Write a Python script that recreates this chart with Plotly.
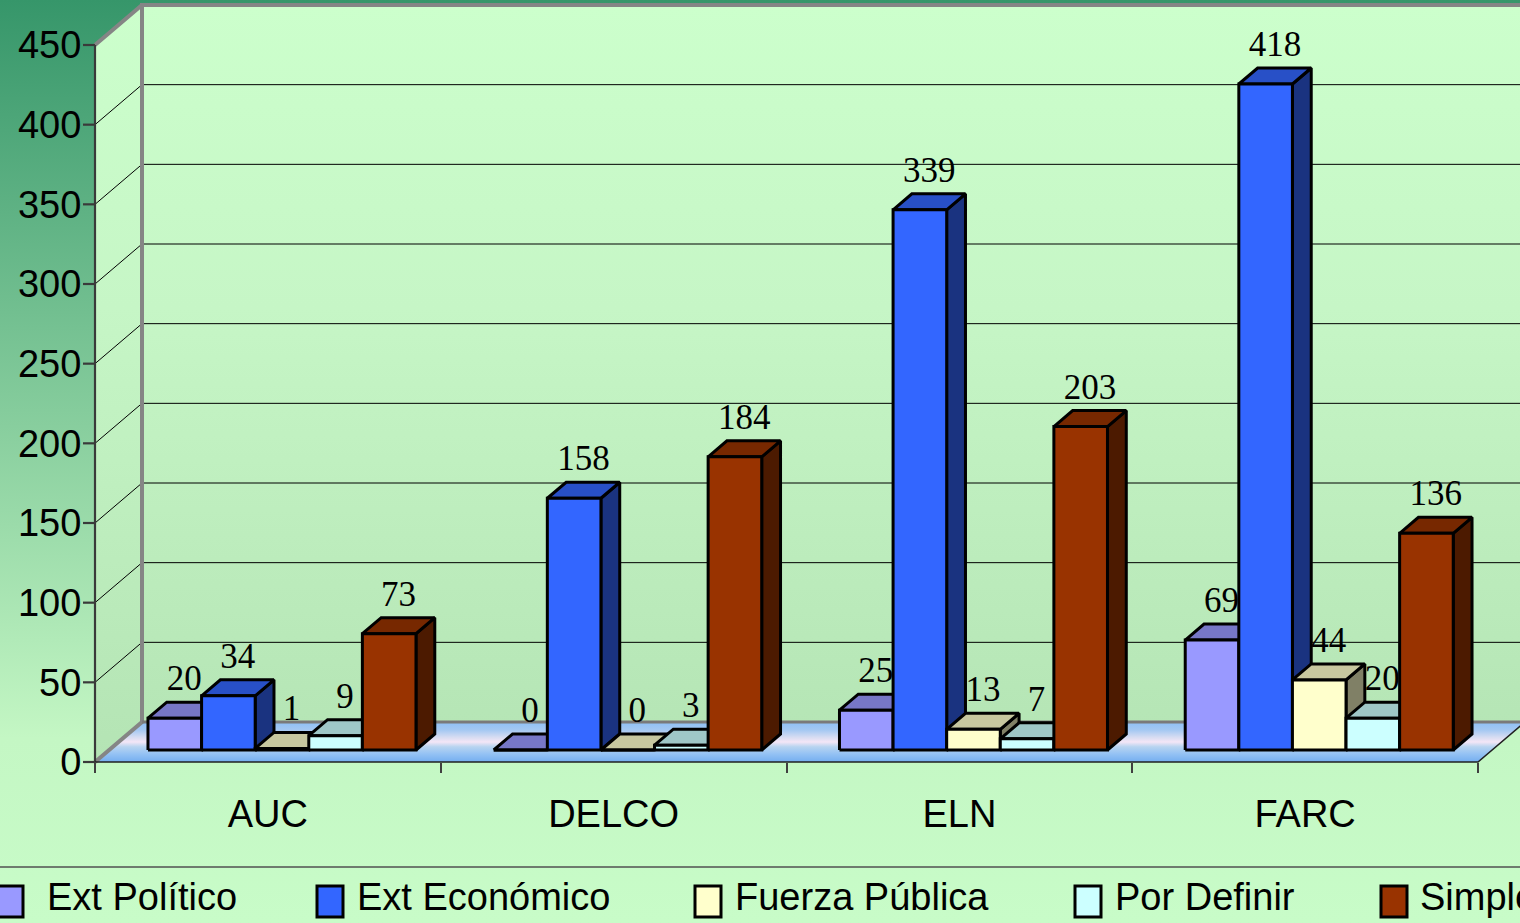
import plotly.graph_objects as go

# datos
categorias = ["AUC", "DELCO", "ELN", "FARC"]
series = ["Ext Político", "Ext Económico", "Fuerza Pública", "Por Definir", "Simple"]
ext_politico = [20, 0, 25, 69]
ext_economico = [34, 158, 339, 418]
fuerza_publica = [1, 0, 13, 44]
por_definir = [9, 3, 7, 20]
simple = [73, 184, 203, 136]
y_ticks = [0, 50, 100, 150, 200, 250, 300, 350, 400, 450]

valores = [ext_politico, ext_economico, fuerza_publica, por_definir, simple]
colores = ["#9999FF", "#3366FF", "#FFFFCC", "#CCFFFF", "#993300"]

# geometria de la vista 3D (pixeles -> unidades de datos)
W, H = 1520, 923
X_UNIT = 345.75
Y_UNIT = 717 / 450
X_MIN = -0.5 - 95 / X_UNIT
X_MAX = -0.5 + (W - 95) / X_UNIT
Y_MIN = -(H - 762) / Y_UNIT
Y_MAX = 762 / Y_UNIT
DX = 47 / X_UNIT
DY = 40 / Y_UNIT
D0, D1 = 0.3, 0.7
BW = 53.6 / X_UNIT
TOPE = y_ticks[-1]
TICK = 12 / X_UNIT

SANS = "Liberation Sans, Arial, sans-serif"
SERIF = "Liberation Serif, Times New Roman, serif"


def shade(c, f):
    r, g, b = int(c[1:3], 16), int(c[3:5], 16), int(c[5:7], 16)
    return "rgb(%d,%d,%d)" % (round(r * f), round(g * f), round(b * f))


def poly(xs, ys, **kw):
    return go.Scatter(x=xs, y=ys, mode="lines", fill="toself", hoverinfo="skip",
                      showlegend=False, **kw)


def lineas(xs, ys, color, width):
    return go.Scatter(x=xs, y=ys, mode="lines", hoverinfo="skip", showlegend=False,
                      line=dict(color=color, width=width))


fig = go.Figure()

# fondo con degradado
fig.add_trace(poly([X_MIN, X_MAX, X_MAX, X_MIN, X_MIN], [Y_MIN, Y_MIN, Y_MAX, Y_MAX, Y_MIN],
                   line=dict(width=0),
                   fillgradient=dict(type="vertical", start=Y_MIN, stop=Y_MAX,
                                     colorscale=[[0, "#C8FCC8"], [0.2, "#C4F7C4"], [1, "#36966A"]])))

pared = dict(type="vertical", start=0, stop=TOPE + DY,
             colorscale=[[0, "#B4E4B4"], [0.6, "#C6F6C6"], [1, "#CCFFCC"]])
# pared izquierda
fig.add_trace(poly([-0.5, -0.5 + DX, -0.5 + DX, -0.5, -0.5], [0, DY, TOPE + DY, TOPE, 0],
                   line=dict(width=0), fillgradient=pared))
# pared del fondo
fig.add_trace(poly([-0.5 + DX, X_MAX + 0.2, X_MAX + 0.2, -0.5 + DX, -0.5 + DX],
                   [DY, DY, TOPE + DY, TOPE + DY, DY],
                   line=dict(width=0), fillgradient=pared))
# piso
fig.add_trace(poly([-0.5, 3.5, 3.5 + DX, -0.5 + DX, -0.5], [0, 0, DY, DY, 0],
                   line=dict(width=0),
                   fillgradient=dict(type="vertical", start=0, stop=DY,
                                     colorscale=[[0, "#74AEF0"], [0.2, "#94C2F4"], [0.38, "#B8D4F0"],
                                                 [0.5, "#F4E6F6"], [0.62, "#D6DCF2"], [0.8, "#A4C8F2"],
                                                 [1, "#8EC0F6"]])))

# lineas de division
gx, gy = [], []
for t in y_ticks[1:-1]:
    gx += [-0.5, -0.5 + DX, X_MAX + 0.2, None]
    gy += [t, t + DY, t + DY, None]
fig.add_trace(lineas(gx, gy, "#000000", 1))

# bordes de las paredes
fig.add_trace(lineas([-0.5, -0.5 + DX, X_MAX + 0.2, None, -0.5, -0.5 + DX, -0.5 + DX, X_MAX + 0.2],
                     [TOPE, TOPE + DY, TOPE + DY, None, 0, DY, TOPE + DY, TOPE + DY], "#858585", 4))
fig.add_trace(lineas([-0.5 + DX, X_MAX + 0.2], [DY, DY], "#7A7A7A", 3))

# ejes frontales y marcas del eje y
tx, ty = [-0.5, -0.5, None], [0, TOPE, None]
for t in y_ticks:
    tx += [-0.5 - TICK, -0.5, None]
    ty += [t, t, None]
fig.add_trace(lineas(tx, ty, "#3A3A3A", 2.2))
fig.add_trace(lineas([-0.5, 3.5, 3.5 + DX], [0, 0, DY], "#202020", 1.5))

# barras 3D
ddx = (D1 - D0) * DX
ddy = (D1 - D0) * DY
lx, ly, lt = [], [], []
for i in range(len(categorias)):
    for j in range(len(series)):
        v = valores[j][i]
        xl = i - 2.5 * BW + j * BW + D0 * DX
        xr = xl + BW
        yb = D0 * DY
        yt = v + D0 * DY
        borde = dict(color="#000000", width=3)
        fig.add_trace(poly([xr, xr + ddx, xr + ddx, xr, xr], [yb, yb + ddy, yt + ddy, yt, yb],
                           line=borde, fillcolor=shade(colores[j], 0.5)))
        fig.add_trace(poly([xl, xr, xr + ddx, xl + ddx, xl], [yt, yt, yt + ddy, yt + ddy, yt],
                           line=borde, fillcolor=shade(colores[j], 0.78)))
        fig.add_trace(poly([xl, xr, xr, xl, xl], [yb, yb, yt, yt, yb],
                           line=borde, fillcolor=colores[j]))
        lx.append((xl + xr) / 2 + ddx / 2)
        ly.append(yt + ddy + 2)
        lt.append(str(v))

fig.add_trace(go.Scatter(x=lx, y=ly, text=lt, mode="text", textposition="top center",
                         textfont=dict(family=SERIF, size=35, color="#000000"),
                         hoverinfo="skip", showlegend=False))

# leyenda manual
fig.add_shape(type="line", xref="paper", yref="paper", x0=0, x1=1,
              y0=1 - 867 / H, y1=1 - 867 / H, line=dict(color="#505050", width=1.5))
cuadros = [-3, 317, 695, 1075, 1381]
textos = [45, 355, 733, 1113, 1418]
for j, nombre in enumerate(series):
    fig.add_shape(type="rect", xref="paper", yref="paper",
                  x0=cuadros[j] / W, x1=(cuadros[j] + 26) / W,
                  y0=1 - 917 / H, y1=1 - 886 / H,
                  fillcolor=colores[j], line=dict(color="#000000", width=3))
    fig.add_annotation(text=nombre, xref="paper", yref="paper", x=textos[j] / W, y=1 - 897 / H,
                       xanchor="left", yanchor="middle", showarrow=False,
                       font=dict(family=SANS, size=38, color="#000000"))

fig.update_layout(
    width=W, height=H, autosize=False,
    margin=dict(l=0, r=0, t=0, b=0),
    paper_bgcolor="#C8FCC8", plot_bgcolor="#C8FCC8",
    showlegend=False,
    xaxis=dict(range=[X_MIN, X_MAX], anchor="free", position=(H - 762) / H,
               tickvals=list(range(len(categorias))), ticktext=categorias,
               ticks="outside", ticklen=18, tickcolor="rgba(0,0,0,0)",
               tickfont=dict(family=SANS, size=38, color="#000000"),
               minor=dict(tickmode="array", tickvals=[-0.5, 0.5, 1.5, 2.5, 3.5], ticks="outside",
                          ticklen=10, tickcolor="#404040", tickwidth=1.5, showgrid=False),
               showgrid=False, zeroline=False, showline=False, fixedrange=True),
    yaxis=dict(range=[Y_MIN, Y_MAX], anchor="free", position=95 / W,
               tickvals=y_ticks, ticks="outside", ticklen=6, tickcolor="rgba(0,0,0,0)",
               tickfont=dict(family=SANS, size=38, color="#000000"),
               showgrid=False, zeroline=False, showline=False, fixedrange=True),
)

fig.write_html("out.html", config={"displayModeBar": False},
               post_script="document.body.style.margin='0px';")
